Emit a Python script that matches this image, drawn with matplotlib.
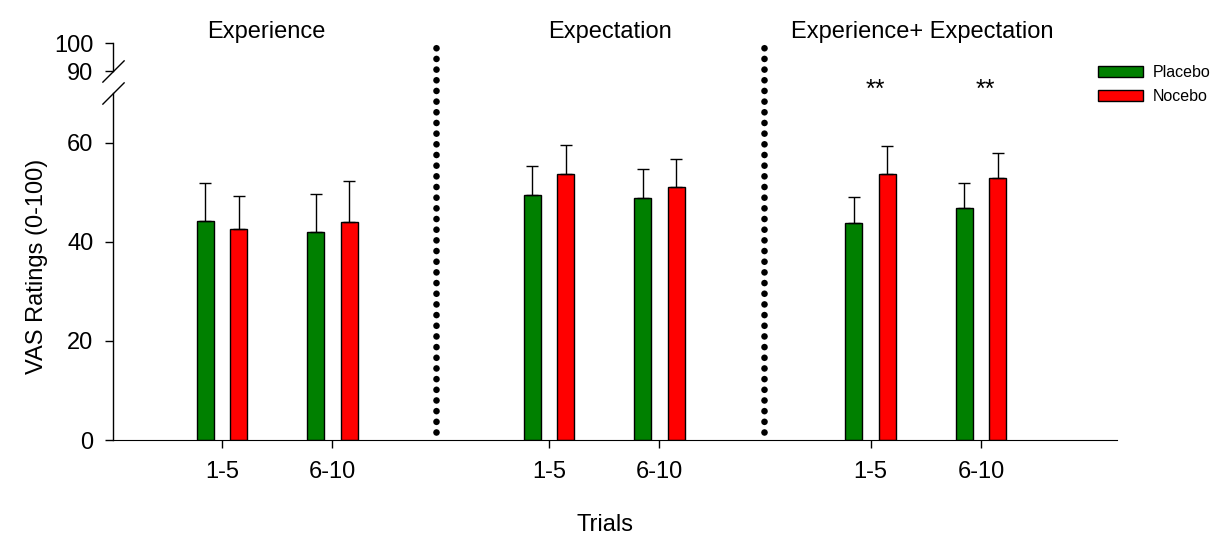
import matplotlib; matplotlib.use('agg')
import matplotlib.pyplot as plt
import numpy as np

# data
groups = ['Experience', 'Expectation', 'Experience+ Expectation']
trial_labels = ['1-5', '6-10', '1-5', '6-10', '1-5', '6-10']
placebo = [44.2, 42.0, 49.5, 48.9, 43.8, 46.8]
placebo_err = [7.7, 7.6, 5.9, 5.9, 5.3, 5.1]
nocebo = [42.6, 44.1, 53.7, 51.2, 53.7, 52.9]
nocebo_err = [6.7, 8.2, 5.9, 5.5, 5.6, 5.1]
signif = ['', '', '', '', '**', '**']


def main():
    plt.rcParams['font.family'] = ['Liberation Sans', 'DejaVu Sans']

    fig = plt.figure(figsize=(12.25, 5.36), dpi=100)
    ax = fig.add_axes([0.0922, 0.1791, 0.8196, 0.6465])
    ax_top = fig.add_axes([0.0922, 0.8675, 0.8196, 0.0522], sharex=ax)
    ax_top.patch.set_visible(False)

    x = np.array([0, 1, 2.96, 3.96, 5.87, 6.87])
    w = 0.154
    off = 0.151

    for a in (ax, ax_top):
        a.bar(x - off, placebo, w, color='#008000', edgecolor='black', linewidth=1,
              yerr=[np.zeros(len(placebo)), placebo_err], ecolor='black',
              error_kw=dict(capsize=4.5, elinewidth=1, capthick=1), label='Placebo')
        a.bar(x + off, nocebo, w, color='#ff0000', edgecolor='black', linewidth=1,
              yerr=[np.zeros(len(nocebo)), nocebo_err], ecolor='black',
              error_kw=dict(capsize=4.5, elinewidth=1, capthick=1), label='Nocebo')

    ax.set_xlim(-0.986, 8.1)
    ax.set_ylim(0, 70)
    ax_top.set_ylim(90, 100)

    ax.spines[['top', 'right']].set_visible(False)
    ax_top.spines[['top', 'right', 'bottom']].set_visible(False)
    for a in (ax, ax_top):
        a.spines['left'].set_linewidth(1)
        a.tick_params(direction='out', length=6, width=1, labelsize=17)
    ax.tick_params(axis='x', pad=9)
    ax.tick_params(axis='y', pad=8)
    ax_top.tick_params(axis='y', pad=8)
    ax_top.tick_params(axis='x', bottom=False, labelbottom=False)

    ax.set_yticks([0, 20, 40, 60])
    ax_top.set_yticks([90, 100])
    ax.set_xticks(x)
    ax.set_xticklabels(trial_labels)
    ax.set_xlabel('Trials', fontsize=17)
    ax.xaxis.set_label_coords(0.49, -0.213)
    ax.set_ylabel('VAS Ratings (0-100)', fontsize=17, labelpad=14)

    # axis break marks
    kw = dict(marker=[(-1, -1), (1, 1)], markersize=16, linestyle='none',
              color='black', mec='black', mew=1, clip_on=False)
    ax_top.plot([0], [0], transform=ax_top.transAxes, **kw)
    ax.plot([0], [1], transform=ax.transAxes, **kw)

    # dotted separators between conditions
    for sx in [1.94, 4.91]:
        ax.plot([sx, sx], [1.6, 80.8], color='black', linewidth=4.8,
                linestyle=(0, (0.001, 1.6)), dash_capstyle='round', clip_on=False)

    # group titles
    centers = [(x[0] + x[1]) / 2 - 0.1, (x[2] + x[3]) / 2 + 0.05, (x[4] + x[5]) / 2 - 0.03]
    for cx, g in zip(centers, groups):
        ax.text(cx, 82.5, g, ha='center', va='center', fontsize=17, clip_on=False)

    for xi, s in zip(x, signif):
        if s:
            ax.text(xi + 0.04, 70.8, s, ha='center', va='center', fontsize=18, clip_on=False)

    ax.legend(loc='upper left', bbox_to_anchor=(0.975, 1.1), frameon=False, fontsize=11.5,
              handlelength=2.8, handleheight=0.75, labelspacing=0.55, handletextpad=0.6,
              borderaxespad=0)

    plt.savefig('out.png', dpi=100)


if __name__ == '__main__':
    main()
